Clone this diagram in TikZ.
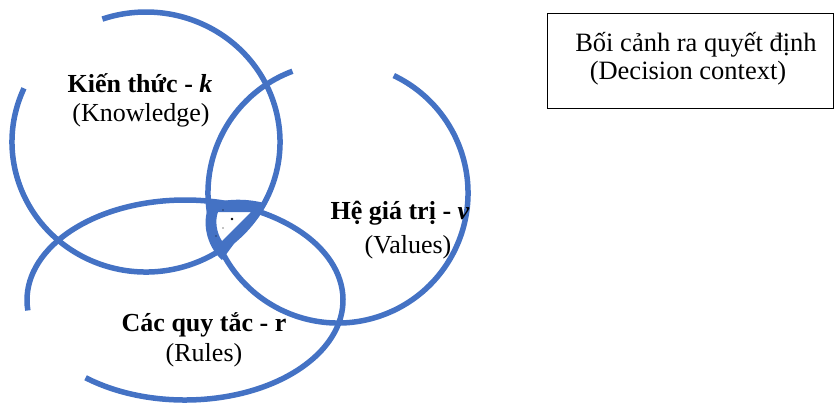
\documentclass[tikz,border=0pt]{standalone}
\usepackage{fontspec}
\setmainfont{Liberation Serif}
\definecolor{vblue}{HTML}{4472C4}
\tikzset{
  ring/.style={draw=vblue, line width=5.5pt},
  lbl/.style={inner sep=0pt, font=\fontsize{26}{30}\selectfont\bfseries},
  sub/.style={inner sep=0pt, font=\fontsize{26}{30}\selectfont},
  ctxtext/.style={inner sep=0pt, font=\fontsize{26.5}{30}\selectfont},
  ctxbox/.style={draw=black, line width=1pt}
}
\begin{document}
\begin{tikzpicture}[x=1pt,y=1pt]
\useasboundingbox (0,0) rectangle (834,-402);
% Knowledge circle
\draw[ring] ([shift={(155.6:134 and 130)}]146,-142) arc[start angle=155.6, end angle=469, x radius=134, y radius=130];
% Values circle
\draw[ring] ([shift={(110.5:130 and 130)}]338,-193) arc[start angle=110.5, end angle=424.6, x radius=130, y radius=130];
% Rules ellipse
\draw[ring] ([shift={(231:158 and 100)}]185,-300) arc[start angle=231, end angle=546, x radius=158, y radius=100];
% central wedge
\fill[vblue, even odd rule] (210,-204) .. controls (201,-220) and (206,-246) .. (222,-260) -- (264,-203) .. controls (245,-198) and (225,-199) .. (210,-204) -- cycle
  (218,-212) -- (251,-212) -- (222,-241) .. controls (216,-232) and (215,-220) .. (218,-212) -- cycle;
\fill[black] (232,-219) circle (1.3);
\fill[black] (223,-210) circle (0.7);
\fill[black] (223,-228) circle (0.7);
\fill[black] (216,-236) circle (0.7);
% labels
\node[lbl] (k1) at (140,-83) {Kiến thức - \textit{k}};
\node[sub] (k2) at (141,-115) {(Knowledge)};
\node[lbl] (v1) at (400,-213) {Hệ giá trị - \textit{v}};
\node[sub] (v2) at (408,-247) {(Values)};
\node[lbl] (r1) at (204,-325) {Các quy tắc - r};
\node[sub] (r2) at (204,-355) {(Rules)};
% context box
\draw[ctxbox] (547,-13) rectangle (833,-108);
\node[ctxtext] (c1) at (696,-45) {Bối cảnh ra quyết định};
\node[ctxtext] (c2) at (688,-73) {(Decision context)};
\end{tikzpicture}
\end{document}
